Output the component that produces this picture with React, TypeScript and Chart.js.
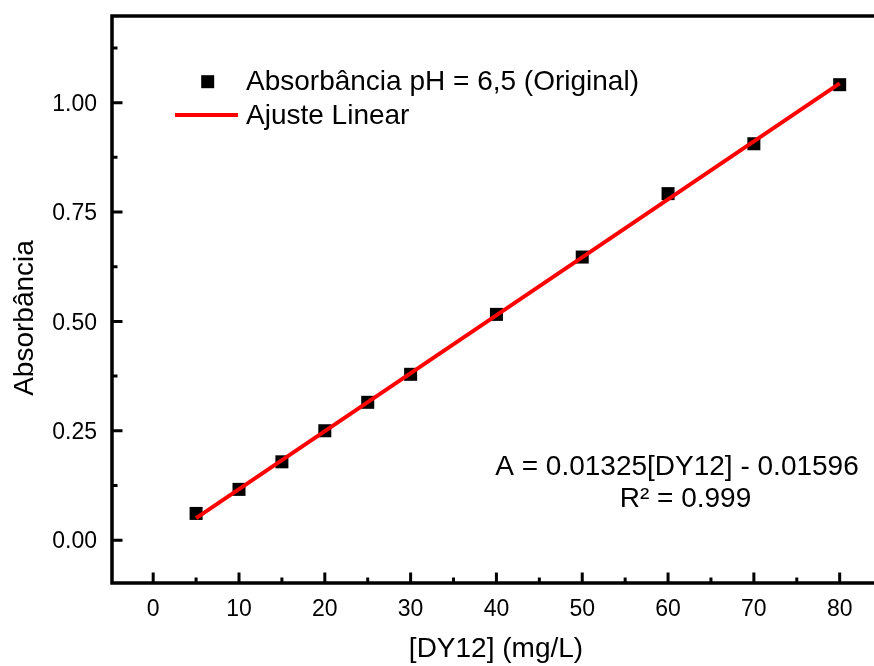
import React, { useEffect, useRef } from 'react';
import { Chart, registerables } from 'chart.js';

Chart.register(...registerables);

// ---- data ----
const concentrations = [5, 10, 15, 20, 25, 30, 40, 50, 60, 70, 80];
const absorbance = [0.061, 0.116, 0.179, 0.25, 0.315, 0.379, 0.516, 0.647, 0.792, 0.906, 1.041];
const fitX = [5, 80];
const fitY = [0.0503, 1.044];
const xRange = [-4.8, 84];
const yRange = [-0.098, 1.198];
const xTickStep = 10;
const yTickStep = 0.25;
const legendLabels = ['Absorbância pH = 6,5 (Original)', 'Ajuste Linear'];
const equationLines = ['A = 0.01325[DY12] - 0.01596', 'R² = 0.999'];
const xTitle = '[DY12] (mg/L)';
const yTitle = 'Absorbância';

const FONT = '"Liberation Sans", Arial, Helvetica, sans-serif';

function minorValues(vals: number[], min: number, max: number): number[] {
  const out: number[] = [];
  if (vals.length < 2) return out;
  const step = vals[1] - vals[0];
  for (let i = -1; i < vals.length; i++) {
    const v = vals[0] + (i + 0.5) * step;
    if (v > min && v < max) out.push(v);
  }
  return out;
}

const overlay = {
  id: 'overlay',
  afterDraw(chart: any) {
    const ctx: CanvasRenderingContext2D = chart.ctx;
    const { left, top, bottom } = chart.chartArea;
    const xs = chart.scales.x;
    const ys = chart.scales.y;
    const farRight = chart.width + 10;
    ctx.save();

    // frame (left, bottom, top)
    ctx.strokeStyle = '#000';
    ctx.lineWidth = 3.5;
    ctx.lineCap = 'square';
    ctx.beginPath();
    ctx.moveTo(farRight, top);
    ctx.lineTo(left, top);
    ctx.lineTo(left, bottom);
    ctx.lineTo(farRight, bottom);
    ctx.stroke();

    // inward ticks
    ctx.lineCap = 'butt';
    ctx.lineWidth = 3;
    const xMajor: number[] = xs.ticks.map((t: any) => t.value);
    const yMajor: number[] = ys.ticks.map((t: any) => t.value);
    ctx.beginPath();
    xMajor.forEach((v) => {
      const p = xs.getPixelForValue(v);
      ctx.moveTo(p, bottom);
      ctx.lineTo(p, bottom - 10.5);
    });
    minorValues(xMajor, xs.min, xs.max).forEach((v) => {
      const p = xs.getPixelForValue(v);
      ctx.moveTo(p, bottom);
      ctx.lineTo(p, bottom - 5.5);
    });
    yMajor.forEach((v) => {
      const p = ys.getPixelForValue(v);
      ctx.moveTo(left, p);
      ctx.lineTo(left + 10.5, p);
    });
    minorValues(yMajor, ys.min, ys.max).forEach((v) => {
      const p = ys.getPixelForValue(v);
      ctx.moveTo(left, p);
      ctx.lineTo(left + 5.5, p);
    });
    ctx.stroke();

    // tick labels
    ctx.fillStyle = '#000';
    ctx.font = `23px ${FONT}`;
    ctx.textBaseline = 'alphabetic';
    ctx.textAlign = 'center';
    xMajor.forEach((v) => {
      ctx.fillText(String(v), xs.getPixelForValue(v), 615.5);
    });
    ctx.textAlign = 'right';
    yMajor.forEach((v) => {
      ctx.fillText(v.toFixed(2), 97, ys.getPixelForValue(v) + 8.2);
    });

    // axis titles
    ctx.font = `28px ${FONT}`;
    ctx.textAlign = 'center';
    ctx.fillText(xTitle, 496, 657);
    ctx.save();
    ctx.translate(33, 318);
    ctx.rotate(-Math.PI / 2);
    ctx.fillText(yTitle, 0, 0);
    ctx.restore();

    // legend
    ctx.textAlign = 'left';
    ctx.fillRect(207.7 - 6.5, 81.7 - 6.5, 13, 13);
    ctx.fillText(legendLabels[0], 246, 89.5);
    ctx.strokeStyle = '#ff0000';
    ctx.lineWidth = 4;
    ctx.beginPath();
    ctx.moveTo(175, 115);
    ctx.lineTo(238, 115);
    ctx.stroke();
    ctx.fillText(legendLabels[1], 246, 123.5);

    // equation
    ctx.textAlign = 'center';
    ctx.fillText(equationLines[0], 677, 475);
    ctx.fillText(equationLines[1], 685.5, 507);

    ctx.restore();
  },
};

export default function App() {
  const canvasRef = useRef<HTMLCanvasElement | null>(null);

  useEffect(() => {
    const canvas = canvasRef.current;
    if (!canvas) return;
    const chart = new Chart(canvas, {
      type: 'scatter',
      data: {
        datasets: [
          {
            label: legendLabels[1],
            data: fitX.map((x, i) => ({ x, y: fitY[i] })),
            showLine: true,
            borderColor: '#ff0000',
            backgroundColor: '#ff0000',
            borderWidth: 4,
            pointRadius: 0,
            pointHoverRadius: 0,
          },
          {
            label: legendLabels[0],
            data: concentrations.map((x, i) => ({ x, y: absorbance[i] })),
            showLine: false,
            pointStyle: 'rect',
            pointRadius: 9.2,
            pointHoverRadius: 9.2,
            backgroundColor: '#000000',
            borderColor: '#000000',
            borderWidth: 0,
          },
        ],
      },
      options: {
        responsive: false,
        animation: false,
        devicePixelRatio: 1,
        layout: { autoPadding: false, padding: { top: 16, right: 0, bottom: 0, left: 0 } },
        plugins: {
          legend: { display: false },
          tooltip: { enabled: false },
          title: { display: false },
        },
        scales: {
          x: {
            type: 'linear',
            position: 'bottom',
            min: xRange[0],
            max: xRange[1],
            grid: { display: false, drawTicks: false },
            border: { display: false },
            ticks: {
              display: false,
              stepSize: xTickStep,
              includeBounds: false,
              autoSkip: false,
              maxRotation: 0,
            },
            afterFit: (scale: any) => {
              scale.height = 83;
            },
          },
          y: {
            type: 'linear',
            position: 'left',
            min: yRange[0],
            max: yRange[1],
            grid: { display: false, drawTicks: false },
            border: { display: false },
            ticks: {
              display: false,
              stepSize: yTickStep,
              includeBounds: false,
              autoSkip: false,
            },
            afterFit: (scale: any) => {
              scale.width = 112;
            },
          },
        },
      },
      plugins: [overlay],
    });
    return () => chart.destroy();
  }, []);

  return (
    <div style={{ position: 'absolute', left: 0, top: 0, width: 874, height: 666, background: '#fff' }}>
      <canvas ref={canvasRef} width={874} height={666} style={{ display: 'block' }} />
    </div>
  );
}
